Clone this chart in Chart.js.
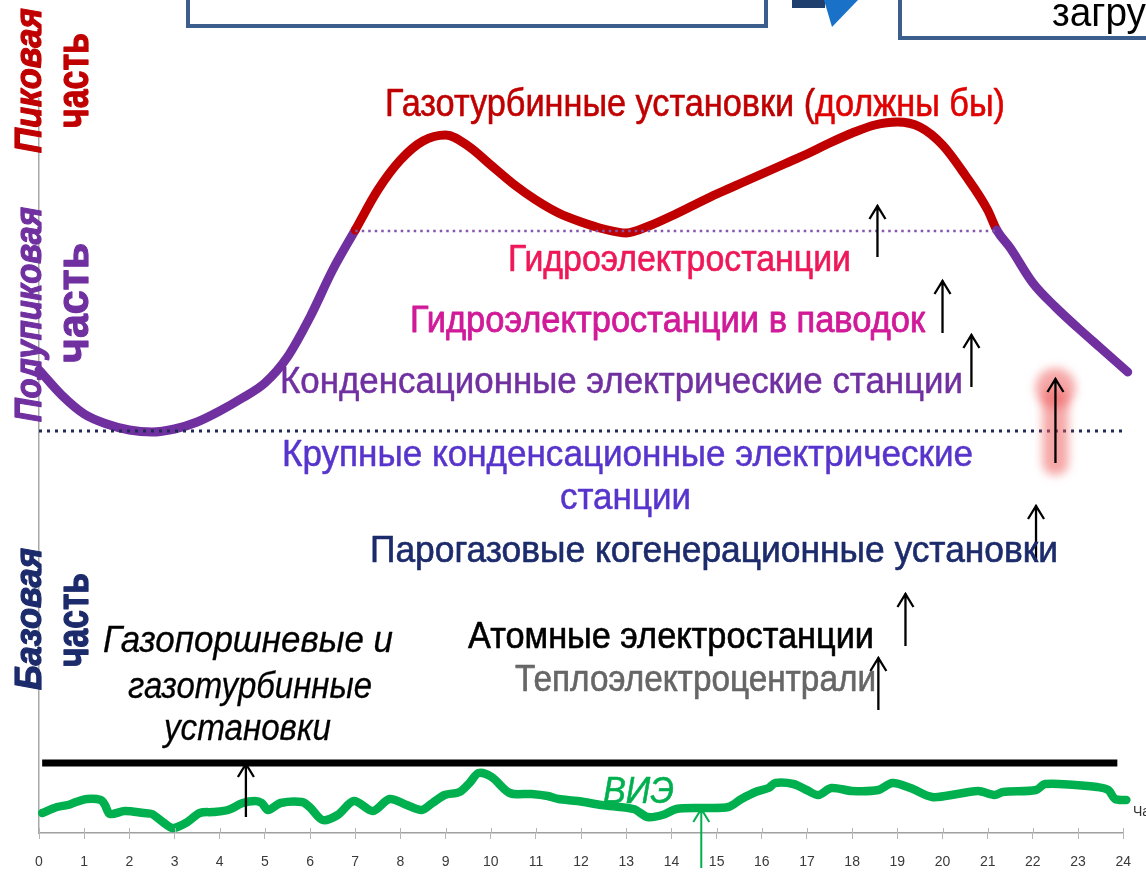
<!DOCTYPE html>
<html>
<head>
<meta charset="utf-8">
<script src="https://cdn.jsdelivr.net/npm/chart.js@4.4.0/dist/chart.umd.min.js"></script>
<style>
  html, body { margin: 0; padding: 0; background: #ffffff; }
  #wrap { width: 1146px; height: 872px; position: relative; }
  canvas { display: block; }
</style>
</head>
<body>
<div id="wrap"><canvas id="c" width="1146" height="872"></canvas></div>
<script>
// Hour labels on the horizontal axis
const hourLabels = ['0','1','2','3','4','5','6','7','8','9','10','11','12','13','14','15','16','17','18','19','20','21','22','23','24'];

// Daily load curve (hours, load units)
const loadHours  = [0,0.5,1,1.5,2,2.5,3,3.5,4,4.5,5,5.5,6,6.5,7,7.5,8,8.5,9,9.5,10,10.5,11,11.5,12,12.5,13,13.5,14,14.5,15,15.5,16,16.5,17,17.5,18,18.5,19,19.5,20,20.5,21,21.2,21.5,22,22.5,23,23.5,24.1];
const loadValues = [463,438,419,409,403,401,404,411,422,435,450,476,516,563,603,643,673,692,698,687,668,649,633,620,611,604,600,607,617,628,639,649,659,669,679,690,700,708,711,706,688,658,623,603,585,550,526,505,485,461];

// Renewable (ВИЭ) output
const vieHours  = [0.07,0.40,0.64,0.82,1.06,1.37,1.46,1.57,1.90,2.32,2.50,2.74,2.96,3.25,3.56,3.85,4.18,4.51,4.78,4.93,5.07,5.35,5.82,5.99,6.28,6.61,6.97,7.39,7.76,8.14,8.47,8.71,8.98,9.31,9.53,9.73,10.02,10.42,10.90,11.26,11.50,11.92,12.45,13.16,13.47,13.80,14.11,14.66,15.26,15.55,15.86,16.15,16.30,16.70,16.99,17.25,17.54,18.00,18.58,18.89,19.29,19.77,20.33,20.79,21.15,21.34,22.07,22.27,22.94,23.42,23.67,23.82,24.07];
const vieValues = [20,26,28,31,34,33,28,19,22,20,19,11,5,10,20,21,23,30,32,30,23,30,31,26,13,18,32,22,34,28,23,30,38,41,50,60,56,40,39,37,34,32,28,24,16,18,24,25,26,34,41,45,50,49,43,38,45,42,43,50,45,36,39,42,38,41,43,49,48,46,43,34,33];

// Level boundaries
const peakLevel = 602;      // upper limit of the semi-peak zone
const peakFrom = 7, peakTo = 21.2;
const baseLevel = 402;      // upper limit of the base zone
const baseFrom = 0, baseTo = 24.07;
const gasLevel = 70;        // gas piston / gas turbine layer
const gasFrom = 0.07, gasTo = 23.87;

// Upward arrows: hour, start level, end level
const arrowHours = [4.58, 14.66, 18.58, 19.18, 22.07, 22.5, 18.56, 20.0, 20.64];
const arrowFrom  = [16, -35, 123, 187, 273, 370, 576, 500, 446];
const arrowTo    = [70, 25, 176, 240, 328, 455, 628, 553, 499];
const arrowGreen = [false, true, false, false, false, false, false, false, false];
const glowArrow = 5;

const SANS = '"Liberation Sans", Arial, sans-serif';
const NARROW = '"Liberation Sans Narrow", "Liberation Sans", Arial, sans-serif';
const RED = '#c00000', PURPLE = '#7030a0', NAVY = '#1c2b6b', GREEN = '#00b04f';

function pts(xs, ys) { return xs.map((x, i) => ({ x: x, y: ys[i] })); }

function fit(ctx, parts, x, y, width, font, weight) {
  ctx.font = font;
  const total = parts.reduce((s, p) => s + ctx.measureText(p[0]).width, 0);
  ctx.save();
  ctx.translate(x, y);
  ctx.scale(width / total, 1);
  ctx.textBaseline = 'alphabetic';
  ctx.textAlign = 'left';
  ctx.lineJoin = 'round';
  let cx = 0;
  for (const [t, c] of parts) {
    ctx.fillStyle = c;
    ctx.fillText(t, cx, 0);
    if (weight) {
      ctx.strokeStyle = c;
      ctx.lineWidth = weight;
      ctx.strokeText(t, cx, 0);
    }
    cx += ctx.measureText(t).width;
  }
  ctx.restore();
}
function fitUp(ctx, text, color, xBase, yStart, length, font, weight) {
  ctx.save();
  ctx.translate(xBase, yStart);
  ctx.rotate(-Math.PI / 2);
  fit(ctx, [[text, color]], 0, 0, length, font, weight);
  ctx.restore();
}

const decor = {
  id: 'decor',
  afterDatasetsDraw(chart) {
    const ctx = chart.ctx, xs = chart.scales.x, ys = chart.scales.y;
    // short tick marks above the hour axis
    ctx.save();
    ctx.strokeStyle = '#b5b5b5';
    ctx.lineWidth = 1;
    hourLabels.forEach((_, i) => {
      const x = Math.round(xs.getPixelForValue(i)) + 0.5;
      ctx.beginPath();
      ctx.moveTo(x, ys.bottom); ctx.lineTo(x, ys.bottom - 5);
      ctx.stroke();
    });
    ctx.restore();
    // soft red highlight behind one arrow
    {
      const gx = xs.getPixelForValue(arrowHours[glowArrow]);
      const top = ys.getPixelForValue(arrowTo[glowArrow]);
      const bot = ys.getPixelForValue(arrowFrom[glowArrow]);
      ctx.save();
      ctx.filter = 'blur(5px)';
      ctx.fillStyle = 'rgba(238,95,95,0.55)';
      ctx.beginPath();
      ctx.arc(gx, top + 10, 20, 0, Math.PI * 2);
      ctx.fill();
      ctx.beginPath();
      ctx.roundRect(gx - 13, top + 10, 26, bot - top + 2, 12);
      ctx.fill();
      ctx.restore();
    }
    // arrows
    arrowHours.forEach((h, i) => {
      const x = xs.getPixelForValue(h);
      const y0 = ys.getPixelForValue(arrowFrom[i]);
      const y1 = ys.getPixelForValue(arrowTo[i]);
      ctx.save();
      ctx.strokeStyle = arrowGreen[i] ? GREEN : '#000000';
      ctx.lineWidth = arrowGreen[i] ? 2 : 2.3;
      ctx.lineCap = 'butt';
      ctx.beginPath();
      ctx.moveTo(x, y0); ctx.lineTo(x, y1);
      ctx.moveTo(x - 8, y1 + 14); ctx.lineTo(x, y1 + 1); ctx.lineTo(x + 8, y1 + 14);
      ctx.stroke();
      ctx.restore();
    });
  },
  afterDraw(chart) {
    const ctx = chart.ctx;
    // header boxes
    ctx.save();
    ctx.strokeStyle = '#3b5e8c';
    ctx.lineWidth = 4;
    ctx.strokeRect(188, -10, 578, 36);
    ctx.strokeRect(900, -10, 260, 48);
    ctx.fillStyle = '#1f3f6e';
    ctx.fillRect(792, 0, 33, 8);
    ctx.fillStyle = '#1a72c8';
    ctx.beginPath();
    ctx.moveTo(824, 0); ctx.lineTo(858, 0); ctx.lineTo(832, 27); ctx.closePath();
    ctx.fill();
    ctx.restore();
    ctx.font = '40px ' + NARROW;
    const wz = ctx.measureText('загру').width;
    ctx.save();
    ctx.translate(1052, 26); ctx.scale(94 / wz, 1);
    ctx.fillStyle = '#000'; ctx.fillText('загрузка', 0, 0);
    ctx.restore();

    // zone labels along the vertical axis
    fitUp(ctx, 'Пиковая', RED, 41, 153, 145, 'italic bold 37px ' + SANS, 1.2);
    fitUp(ctx, 'часть', RED, 88, 128, 95, 'bold 44px ' + SANS, 1.2);
    fitUp(ctx, 'Полупиковая', PURPLE, 41, 422, 215, 'italic bold 37px ' + SANS, 1.2);
    fitUp(ctx, 'часть', PURPLE, 88, 363, 120, 'bold 44px ' + SANS, 1.2);
    fitUp(ctx, 'Базовая', NAVY, 41, 690, 142, 'italic bold 37px ' + SANS, 1.2);
    fitUp(ctx, 'часть', NAVY, 88, 667, 94, 'bold 44px ' + SANS, 1.2);

    // plant type labels
    fit(ctx, [['Газотурбинные установки (', RED], ['должны бы)', '#e00000']], 385, 116, 620, '39px ' + NARROW, 0.6);
    fit(ctx, [['Гидроэлектростанции', '#ee1858']], 508, 271, 343, '36px ' + SANS, 0.6);
    fit(ctx, [['Гидроэлектростанции в паводок', '#d01a98']], 410, 332, 515, '36px ' + SANS, 0.8);
    fit(ctx, [['Конденсационные электрические станции', PURPLE]], 280, 393, 683, '36px ' + SANS, 0.5);
    fit(ctx, [['Крупные конденсационные электрические', '#5734cc']], 282, 466, 691, '36px ' + SANS, 0.5);
    fit(ctx, [['станции', '#5734cc']], 560, 509, 131, '36px ' + SANS, 0.5);
    fit(ctx, [['Парогазовые когенерационные установки', NAVY]], 370, 562, 688, '36px ' + SANS, 0.6);
    fit(ctx, [['Атомные электростанции', '#000000']], 468, 648, 406, '36px ' + SANS, 0.6);
    fit(ctx, [['Теплоэлектроцентрали', '#666666']], 515, 691, 361, '36px ' + SANS, 0.6);
    fit(ctx, [['Газопоршневые и', '#000000']], 103, 652, 290, 'italic 36px ' + SANS, 0.3);
    fit(ctx, [['газотурбинные', '#000000']], 128, 698, 244, 'italic 36px ' + SANS, 0.3);
    fit(ctx, [['установки', '#000000']], 164, 740, 167, 'italic 36px ' + SANS, 0.3);
    fit(ctx, [['ВИЭ', GREEN]], 603, 803, 71, 'italic 36px ' + SANS, 0.6);

    ctx.save();
    ctx.font = '14px ' + SANS;
    ctx.fillStyle = '#333333';
    ctx.textBaseline = 'middle';
    ctx.fillText('Часы', 1133, 812);
    ctx.restore();
  }
};

new Chart(document.getElementById('c'), {
  type: 'line',
  data: {
    datasets: [
      {
        data: pts([peakFrom, peakTo], [peakLevel, peakLevel]),
        borderColor: '#8456ad', borderWidth: 2.5, borderDash: [2.5, 4], pointRadius: 0
      },
      {
        data: pts([baseFrom, baseTo], [baseLevel, baseLevel]),
        borderColor: '#1f2a55', borderWidth: 3, borderDash: [3, 5], pointRadius: 0
      },
      {
        data: pts([gasFrom, gasTo], [gasLevel, gasLevel]),
        borderColor: '#000000', borderWidth: 7, pointRadius: 0
      },
      {
        data: pts(vieHours, vieValues),
        borderColor: GREEN, borderWidth: 8.5, pointRadius: 0, tension: 0.3,
        borderCapStyle: 'round', borderJoinStyle: 'round'
      },
      {
        data: pts(loadHours, loadValues),
        borderColor: PURPLE, borderWidth: 9, pointRadius: 0,
        cubicInterpolationMode: 'monotone',
        borderCapStyle: 'round', borderJoinStyle: 'round',
        segment: {
          borderColor: c => (c.p0.parsed.x >= peakFrom - 0.001 && c.p1.parsed.x <= peakTo + 0.001) ? RED : PURPLE
        }
      }
    ]
  },
  options: {
    responsive: false,
    animation: false,
    events: [],
    clip: false,
    layout: { padding: { left: 0, right: 22, top: 99, bottom: 0 } },
    plugins: { legend: { display: false }, tooltip: { enabled: false } },
    scales: {
      x: {
        type: 'linear', min: 0, max: 24,
        afterFit: s => { s.height = 39; },
        ticks: {
          stepSize: 1, autoSkip: false, maxRotation: 0, padding: 15,
          color: '#3a3a3a', font: { size: 14, family: SANS },
          callback: v => hourLabels[v]
        },
        grid: { drawOnChartArea: false, drawTicks: true, tickLength: 6, color: '#b5b5b5' },
        border: { display: true, color: '#a0a0a0', width: 1.5 }
      },
      y: {
        type: 'linear', min: 0, max: 734,
        afterFit: s => { s.width = 39; },
        ticks: { display: false },
        grid: { display: false, drawTicks: false },
        border: { display: true, color: '#a8a8a8', width: 1.5 }
      }
    }
  },
  plugins: [decor]
});
</script>
</body>
</html>
